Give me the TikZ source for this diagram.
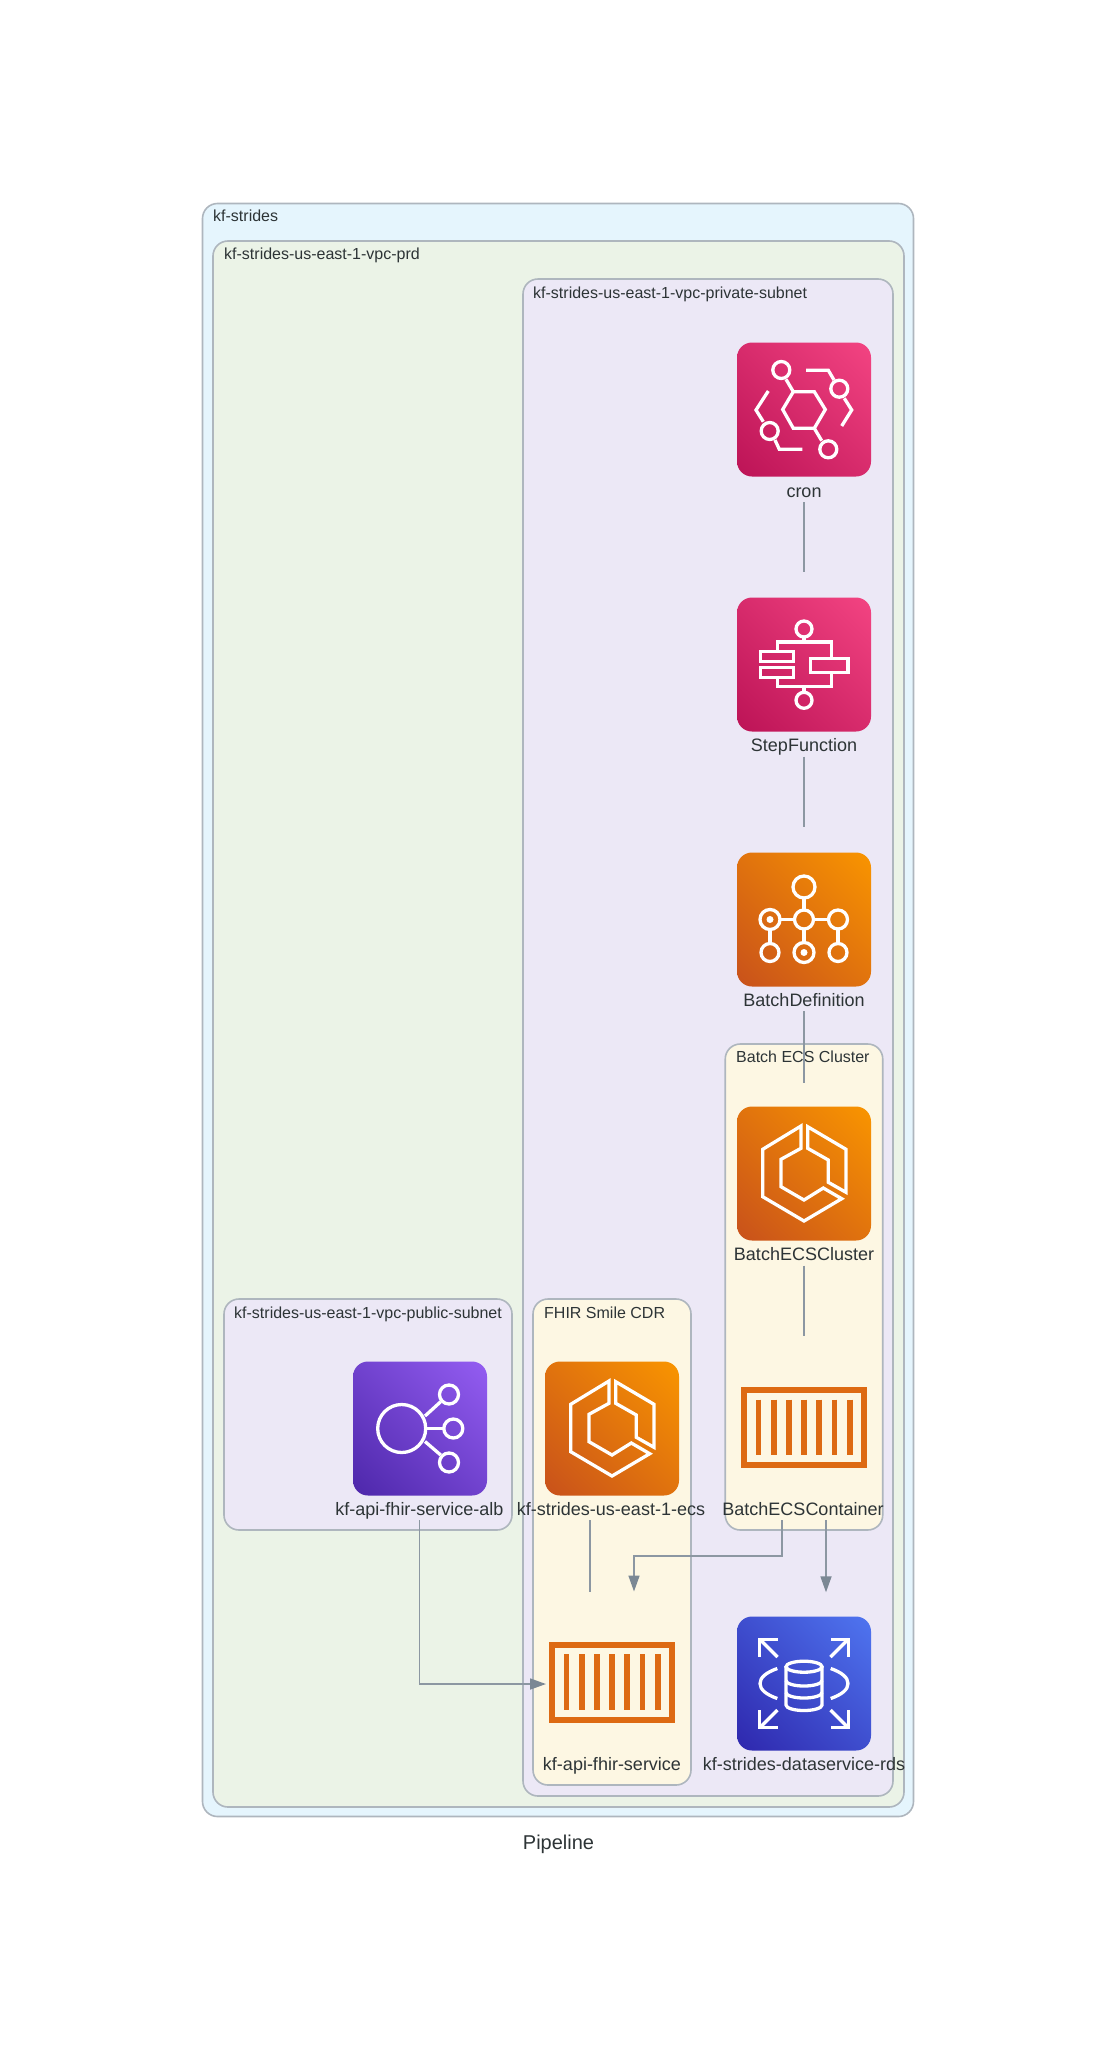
\documentclass[tikz,border=0pt]{standalone}
\usepackage{fontspec}
\setmainfont{Liberation Sans}
\usetikzlibrary{arrows.meta, shadings}
\definecolor{penc}{HTML}{AEB6BE}
\definecolor{edgec}{HTML}{7B8894}
\definecolor{linec}{HTML}{8C97A2}
\definecolor{textc}{HTML}{2D3436}
\definecolor{bgone}{HTML}{E5F5FD}
\definecolor{bgtwo}{HTML}{EBF3E7}
\definecolor{bgthree}{HTML}{ECE8F6}
\definecolor{bgfour}{HTML}{FDF7E3}
\definecolor{pinklo}{HTML}{BC1356}
\definecolor{pinkhi}{HTML}{F34482}
\definecolor{orangelo}{HTML}{C8511B}
\definecolor{orangehi}{HTML}{F99500}
\definecolor{purplelo}{HTML}{4D27AA}
\definecolor{purplehi}{HTML}{945DF2}
\definecolor{bluelo}{HTML}{2E27AD}
\definecolor{bluehi}{HTML}{4F75F0}
\definecolor{boxorange}{HTML}{DD6A13}
\tikzset{
    cluster/.style={draw=penc, line width=1.6pt, rounded corners=15pt},
    clusterlbl/.style={anchor=base west, inner sep=0pt, text=textc, font=\fontsize{16}{18}\selectfont},
    icon/.style={shade, rounded corners=15pt, minimum width=134pt, minimum height=134pt, inner sep=0pt},
    pinkicon/.style={icon, lower left=pinklo, upper right=pinkhi, lower right=pinklo!50!pinkhi, upper left=pinklo!50!pinkhi},
    orangeicon/.style={icon, lower left=orangelo, upper right=orangehi, lower right=orangelo!50!orangehi, upper left=orangelo!50!orangehi},
    purpleicon/.style={icon, lower left=purplelo, upper right=purplehi, lower right=purplelo!50!purplehi, upper left=purplelo!50!purplehi},
    blueicon/.style={icon, lower left=bluelo, upper right=bluehi, lower right=bluelo!50!bluehi, upper left=bluelo!50!bluehi},
    boxicon/.style={draw=boxorange, line width=6pt, minimum width=120pt, minimum height=75pt, inner sep=0pt},
    iconlbl/.style={anchor=base, inner sep=0pt, text depth=5pt, text=textc, font=\fontsize{18}{20}\selectfont},
    glyph/.style={draw=white, line width=3.3pt},
    edge/.style={draw=linec, line width=1.7pt},
    flow/.style={edge, -{Triangle[length=16pt,width=11pt,color=edgec]}}
}
\newcommand{\ecsglyph}{
    \draw[glyph] (-3,-47.5) -- (-41.3,-24.2) -- (-41.3,23.2) -- (0,47.5) -- (37.7,25.2) -- (19.3,14.5) -- (0,26.5) -- (-23,13.2) -- (-23,-14.2) -- (-3,-25.2) -- cycle;
    \draw[glyph] (3.7,-46.8) -- (42,-24.2) -- (42,18.8) -- (24.3,8.8) -- (24.3,-13.5) -- (3.7,-25.2) -- cycle;
}
\newcommand{\boxglyph}{
    \foreach \i in {-3,...,3}
        \draw[boxorange, line width=5.8pt] (\i*15.2,-27.8) -- (\i*15.2,27.8);
}
\begin{document}
\begin{tikzpicture}[x=1pt, y=-1pt]
    \useasboundingbox (0,0) rectangle (1117,2053);

    \node[cluster, fill=bgone, minimum width=711pt, minimum height=1613pt] (strides) at (558,1010) {};
    \node[cluster, fill=bgtwo, minimum width=691pt, minimum height=1566pt] (vpc) at (558.5,1024) {};
    \node[cluster, fill=bgthree, minimum width=370pt, minimum height=1517pt] (private) at (708,1037.5) {};
    \node[cluster, fill=bgthree, minimum width=288pt, minimum height=231pt] (public) at (368,1414.5) {};
    \node[cluster, fill=bgfour, minimum width=158pt, minimum height=486pt] (fhirgrp) at (612,1542) {};
    \node[cluster, fill=bgfour, minimum width=157.5pt, minimum height=486pt] (batchgrp) at (804,1287) {};

    \node[clusterlbl] (stridestxt) at (213,221) {kf-strides};
    \node[clusterlbl] (vpctxt) at (224,259) {kf-strides-us-east-1-vpc-prd};
    \node[clusterlbl] (privatetxt) at (533,298) {kf-strides-us-east-1-vpc-private-subnet};
    \node[clusterlbl] (publictxt) at (234,1318) {kf-strides-us-east-1-vpc-public-subnet};
    \node[clusterlbl] (fhirgrptxt) at (544,1318) {FHIR Smile CDR};
    \node[clusterlbl] (batchgrptxt) at (736,1062.5) {Batch ECS Cluster};

    \node[pinkicon] (cron) at (804,409.5) {};
    \node[pinkicon] (stepfn) at (804,664.5) {};
    \node[orangeicon] (batchdef) at (804,919.5) {};
    \node[orangeicon] (batchecs) at (804,1173.5) {};
    \node[boxicon] (batchctr) at (804,1427.5) {};
    \node[purpleicon] (alb) at (420,1428.5) {};
    \node[orangeicon] (fhirecs) at (612,1428.5) {};
    \node[boxicon] (fhirsvc) at (612,1682) {};
    \node[blueicon] (rds) at (804,1683.5) {};

    \node[iconlbl] (cronlbl) at (804,497) {cron};
    \node[iconlbl] (stepfnlbl) at (804,751.5) {StepFunction};
    \node[iconlbl] (batchdeflbl) at (804,1006) {BatchDefinition};
    \node[iconlbl] (batchecslbl) at (804,1260.5) {BatchECSCluster};
    \node[iconlbl] (batchctrlbl) at (803,1515) {BatchECSContainer};
    \node[iconlbl] (alblbl) at (419.5,1515) {kf-api-fhir-service-alb};
    \node[iconlbl] (fhirecslbl) at (611,1515) {kf-strides-us-east-1-ecs};
    \node[iconlbl] (fhirsvclbl) at (612,1770) {kf-api-fhir-service};
    \node[iconlbl] (rdslbl) at (804,1770) {kf-strides-dataservice-rds};
    \node[anchor=base, inner sep=0pt, text=textc, font=\fontsize{20}{22}\selectfont] (title) at (558.5,1849) {Pipeline};

    \begin{scope}[shift={(cron.center)}]
        \draw[glyph] (-21.3,0) -- (-10.7,-17.8) -- (10.3,-17.8) -- (21.3,0) -- (10.3,18.8) -- (-10.7,18.8) -- cycle;
        \draw[glyph] (-22.7,-39.5) circle (8.5);
        \draw[glyph] (35.3,-20.8) circle (8.5);
        \draw[glyph] (-34.3,21.5) circle (8.5);
        \draw[glyph] (24.3,39.8) circle (8.5);
        \draw[glyph] (-10.7,-17.8) -- (-18,-30.2);
        \draw[glyph] (10.3,18.8) -- (17.7,31.2);
        \draw[glyph] (2,-39.2) -- (24.3,-39.2) -- (30,-29.5);
        \draw[glyph] (40.3,-11.2) -- (47.7,0.5) -- (37.7,16.5);
        \draw[glyph] (-35.7,-18.5) -- (-48,0.5) -- (-40.7,12.2);
        \draw[glyph] (-29,30.5) -- (-24.7,39.8) -- (-1.7,39.8);
    \end{scope}

    \begin{scope}[shift={(stepfn.center)}]
        \draw[glyph] (0,-35.5) circle (8);
        \draw[glyph] (0,35.8) circle (8);
        \draw[glyph] (-26.7,-13) -- (-26.7,-22.5) -- (27.7,-22.5) -- (27.7,-6.2);
        \draw[glyph] (0,-27.5) -- (0,-22.5);
        \draw[glyph] (-26.7,12.8) -- (-26.7,22.2) -- (27.7,22.2) -- (27.7,8.2);
        \draw[glyph] (0,22.2) -- (0,27.8);
        \draw[glyph] (-43.3,-13) rectangle (-10.7,-2.8);
        \draw[glyph] (-43.3,3.2) rectangle (-10.7,12.8);
        \draw[glyph] (6.7,-6.2) rectangle (44,8.2);
    \end{scope}

    \begin{scope}[shift={(batchdef.center)}]
        \draw[glyph] (0,-32.5) circle (11);
        \draw[glyph] (-34,0) circle (10);
        \draw[glyph] (0,0) circle (9.5);
        \draw[glyph] (34,0) circle (9.5);
        \draw[glyph] (-34,33) circle (9);
        \draw[glyph] (0,33) circle (10);
        \draw[glyph] (34,33) circle (9);
        \fill[white] (-34,0) circle (3.5);
        \fill[white] (0,33) circle (3.5);
        \draw[glyph] (0,-21.5) -- (0,-9.5);
        \draw[glyph] (-24,0) -- (-9.5,0);
        \draw[glyph] (9.5,0) -- (24.5,0);
        \draw[glyph] (-34,10) -- (-34,24);
        \draw[glyph] (0,9.5) -- (0,23);
        \draw[glyph] (34,9.5) -- (34,24);
    \end{scope}

    \begin{scope}[shift={(batchecs.center)}]
        \ecsglyph
    \end{scope}
    \begin{scope}[shift={(fhirecs.center)}]
        \ecsglyph
    \end{scope}
    \begin{scope}[shift={(batchctr.center)}]
        \boxglyph
    \end{scope}
    \begin{scope}[shift={(fhirsvc.center)}]
        \boxglyph
    \end{scope}

    \begin{scope}[shift={(alb.center)}]
        \draw[glyph] (-18.3,0) circle (24);
        \draw[glyph] (29,-34) circle (9.5);
        \draw[glyph] (33.3,0) circle (9.5);
        \draw[glyph] (29,34) circle (9.5);
        \draw[glyph] (5,-12.5) -- (20.7,-26.8);
        \draw[glyph] (5.7,0) -- (23.8,0);
        \draw[glyph] (5,13) -- (20.7,26.5);
    \end{scope}

    \begin{scope}[shift={(rds.center)}]
        \draw[glyph] (0,-16.8) ellipse (18 and 5.5);
        \draw[glyph] (-18,-16.8) -- (-18,21.5) arc[start angle=180, end angle=360, x radius=18, y radius=-5.5] -- (18,-16.8);
        \draw[glyph] (-18,-3) arc[start angle=180, end angle=360, x radius=18, y radius=-5.5];
        \draw[glyph] (-18,9) arc[start angle=180, end angle=360, x radius=18, y radius=-5.5];
        \draw[glyph] (-26.7,-15) .. controls (-38,-11) and (-44,-6) .. (-44,0) .. controls (-44,6) and (-38,11) .. (-26.7,15);
        \draw[glyph] (26.7,-15) .. controls (38,-11) and (44,-6) .. (44,0) .. controls (44,6) and (38,11) .. (26.7,15);
        \foreach \sx/\sy in {-1/-1, 1/-1, -1/1, 1/1} {
            \draw[glyph] (\sx*44.3,\sy*26.5) -- (\sx*44.3,\sy*44.3) -- (\sx*26.5,\sy*44.3);
            \draw[glyph] (\sx*44.3,\sy*44.3) -- (\sx*26.5,\sy*26.5);
        }
    \end{scope}

    \draw[edge, shorten >=25pt] (cronlbl.south) -- (stepfn.north);
    \draw[edge, shorten >=25pt] (stepfnlbl.south) -- (batchdef.north);
    \draw[edge, shorten >=23pt] (batchdeflbl.south) -- (batchecs.north);
    \draw[edge, shorten >=51pt] (batchecslbl.south) -- (batchctr.north);
    \draw[edge, shorten >=50pt] ([xshift=-22pt]fhirecslbl.south -| fhirsvc.north) -- ([xshift=-22pt]fhirsvc.north);
    \draw[flow, shorten >=24pt] ([xshift=22pt]batchctrlbl.south -| rds.north) -- ([xshift=22pt]rds.north);
    \draw[flow, shorten >=50pt] ([xshift=-22pt]batchctrlbl.south -| rds.north) -- ++(0,36) -| ([xshift=22pt]fhirsvc.north);
    \draw[flow, shorten >=3pt] (alblbl.south) |- ([yshift=-2pt]fhirsvc.west);
\end{tikzpicture}
\end{document}
